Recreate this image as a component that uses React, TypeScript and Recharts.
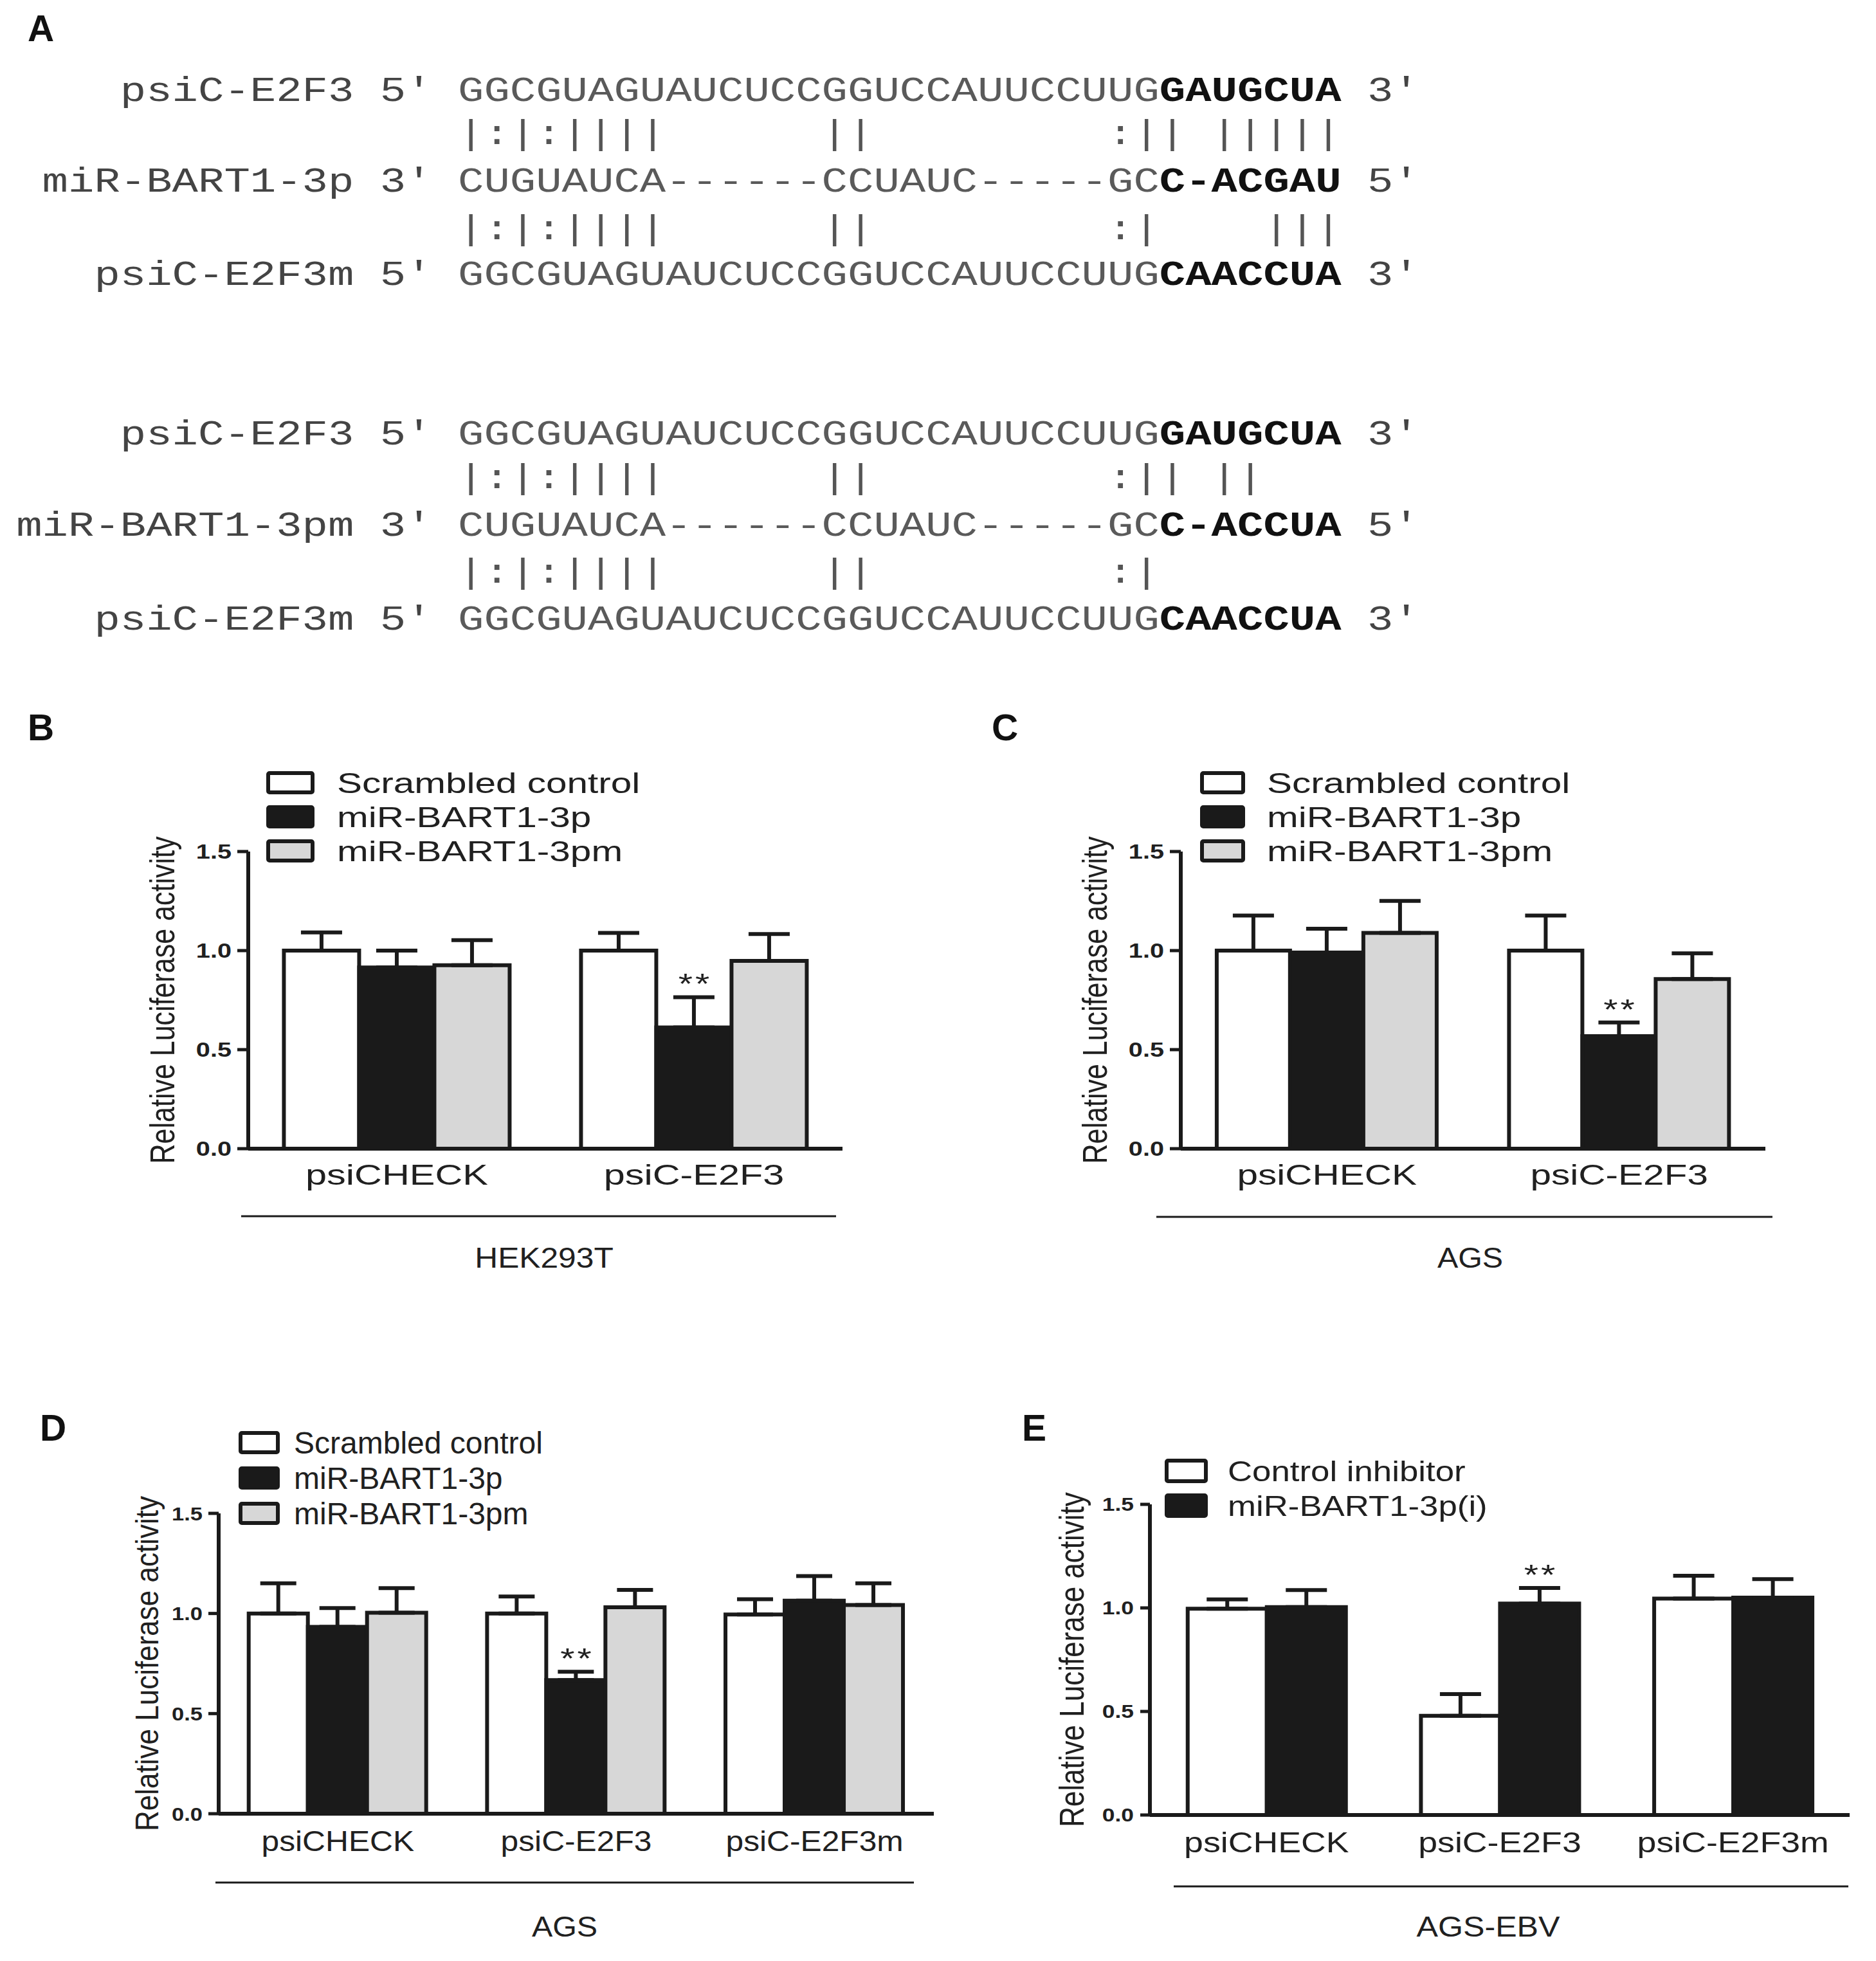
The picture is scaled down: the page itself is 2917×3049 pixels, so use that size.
import React from 'react';
import { BarChart, Bar, XAxis, YAxis, ErrorBar, Legend, LabelList } from 'recharts';

const INK = '#1a1a1a';
const TEXT = '#202020';
const SANS = "'Liberation Sans', Arial, Helvetica, sans-serif";
const MONO = "'Courier New', 'Liberation Mono', 'DejaVu Sans Mono', monospace";

const FILL_WHITE = '#ffffff';
const FILL_BLACK = '#1a1a1a';
const FILL_GRAY = '#d7d7d7';

// ---------- Panel A: sequence alignment ----------
const alignLabelsTop = ['psiC-E2F3', 'miR-BART1-3p', 'psiC-E2F3m'];
const alignLabelsBottom = ['psiC-E2F3', 'miR-BART1-3pm', 'psiC-E2F3m'];
const alignStartMarks = ["5'", "3'", "5'"];
const alignEndMarks = ["3'", "5'", "3'"];
const targetBody = 'GGCGUAGUAUCUCCGGUCCAUUCCUUG';
const targetSeed = 'GAUGCUA';
const targetMutSeed = 'CAACCUA';
const mirBody = 'CUGUAUCA------CCUAUC-----GC';
const mirSeed = 'C-ACGAU';
const mirMutSeed = 'C-ACCUA';
const pairsTopUpper = '|:|:||||      ||         :|| |||||';
const pairsTopLower = '|:|:||||      ||         :|    |||';
const pairsBottomUpper = '|:|:||||      ||         :|| ||';
const pairsBottomLower = '|:|:||||      ||         :|';

// ---------- Bar chart data ----------
const yTicks = [0, 0.5, 1.0, 1.5];
const yAxisTitle = 'Relative Luciferase activity';
const catsTwo = ['psiCHECK', 'psiC-E2F3'];
const catsThree = ['psiCHECK', 'psiC-E2F3', 'psiC-E2F3m'];
const namesMimic = ['Scrambled control', 'miR-BART1-3p', 'miR-BART1-3pm'];
const namesInhib = ['Control inhibitor', 'miR-BART1-3p(i)'];

// B: HEK293T
const cellB = 'HEK293T';
const bScr = [1.0, 1.0];
const bScrErr = [0.092, 0.089];
const bMir = [0.915, 0.612];
const bMirErr = [0.085, 0.153];
const bMirm = [0.926, 0.948];
const bMirmErr = [0.127, 0.136];
const bSig = ['', '**'];

// C: AGS
const cellC = 'AGS';
const cScr = [1.0, 1.0];
const cScrErr = [0.177, 0.177];
const cMir = [0.99, 0.568];
const cMirErr = [0.12, 0.069];
const cMirm = [1.089, 0.856];
const cMirmErr = [0.162, 0.13];
const cSig = ['', '**'];

// D: AGS
const cellD = 'AGS';
const dScr = [1.0, 1.0, 0.995];
const dScrErr = [0.151, 0.085, 0.076];
const dMir = [0.933, 0.667, 1.064];
const dMirErr = [0.094, 0.042, 0.123];
const dMirm = [1.004, 1.031, 1.042];
const dMirmErr = [0.123, 0.087, 0.109];
const dSig = ['', '**', ''];

// E: AGS-EBV
const cellE = 'AGS-EBV';
const eCtl = [0.996, 0.479, 1.045];
const eCtlErr = [0.045, 0.105, 0.11];
const eInh = [1.004, 1.021, 1.05];
const eInhErr = [0.082, 0.075, 0.089];
const eSig = ['', '**', ''];

const noSig2 = ['', ''];
const noSig3 = ['', '', ''];

type Series = { name: string; vals: number[]; errs: number[]; sig: string[]; fill: string };

function makeRows(cats: string[], series: Series[]) {
  return cats.map((c, i) => {
    const r: any = { name: c };
    series.forEach((s, k) => {
      r['v' + k] = s.vals[i];
      r['e' + k] = [0, s.errs[i]];
      r['s' + k] = s.sig[i];
    });
    return r;
  });
}

// ---------- layouts (page coordinates) ----------
const layoutB = {
  left: 0, top: 1060, width: 1400, height: 989, yAxisW: 386, xAxisH: 200,
  margin: { top: 264, right: 90, bottom: 63, left: 0 }, gap: '12%', capHalf: 32,
  tickSize: 17, tickMargin: 9,
  legend: { x: 414, y: 1199, gap: 53, boxW: 75, boxH: 36, textX: 524, fs: 45, sx: 1.3, w: 760 },
  tick: { fs: 32, sx: 1.24 }, cat: { fs: 44, sx: 1.35, dy: 56 },
  yLabel: { x: 271, fs: 43, sy: 1.25 },
  line: { x1: 375, x2: 1300, y: 1891 }, cell: { x: 846, y: 1971, fs: 44, sx: 1.13 },
};
const layoutC = {
  left: 1450, top: 1060, width: 1400, height: 989, yAxisW: 386, xAxisH: 200,
  margin: { top: 264, right: 105, bottom: 63, left: 0 }, gap: '12.3%', capHalf: 32,
  tickSize: 17, tickMargin: 9,
  legend: { x: 1866, y: 1199, gap: 53, boxW: 70, boxH: 36, textX: 1970, fs: 45, sx: 1.3, w: 760 },
  tick: { fs: 32, sx: 1.24 }, cat: { fs: 44, sx: 1.33, dy: 56 },
  yLabel: { x: 1721, fs: 43, sy: 1.25 },
  line: { x1: 1798, x2: 2756, y: 1892 }, cell: { x: 2286, y: 1971, fs: 44, sx: 1.1 },
};
const layoutD = {
  left: 0, top: 2100, width: 1500, height: 949, yAxisW: 340, xAxisH: 180,
  margin: { top: 253, right: 48, bottom: 49, left: 0 }, gap: '12.6%', capHalf: 28,
  tickSize: 16, tickMargin: 9,
  legend: { x: 371, y: 2225, gap: 55, boxW: 64, boxH: 36, textX: 457, fs: 48, sx: 1.0, w: 700 },
  tick: { fs: 30, sx: 1.15 }, cat: { fs: 44, sx: 1.13, dy: 58 },
  yLabel: { x: 246, fs: 44, sy: 1.15 },
  line: { x1: 335, x2: 1421, y: 2927 }, cell: { x: 878, y: 3011, fs: 44, sx: 1.1 },
};
const layoutE = {
  left: 1450, top: 2100, width: 1467, height: 949, yAxisW: 338, xAxisH: 180,
  margin: { top: 239, right: 41, bottom: 47, left: 0 }, gap: '16.2%', capHalf: 32,
  tickSize: 15, tickMargin: 10,
  legend: { x: 1811, y: 2268, gap: 54, boxW: 67, boxH: 38, textX: 1909, fs: 44, sx: 1.2, w: 700 },
  tick: { fs: 29, sx: 1.22 }, cat: { fs: 44, sx: 1.22, dy: 58 },
  yLabel: { x: 1685, fs: 44, sy: 1.2 },
  line: { x1: 1825, x2: 2874, y: 2933 }, cell: { x: 2314, y: 3011, fs: 44, sx: 1.14 },
};

function Panel({ L, cats, series, cell }: any) {
  const rows = makeRows(cats, series);
  const plotTop = L.margin.top;
  const plotBottom = L.height - L.margin.bottom - L.xAxisH;
  const plotH = plotBottom - plotTop;
  const plotLeft = L.margin.left + L.yAxisW;
  const plotRight = L.width - L.margin.right;
  const band = (plotRight - plotLeft) / cats.length;
  const toY = (v: number) => plotBottom - (v / 1.5) * plotH;
  const lg = L.legend;

  const legendContent = () => (
    <svg width={lg.w} height={lg.gap * (series.length - 1) + lg.boxH + 6} style={{ display: 'block', overflow: 'visible' }}>
      {series.map((s: Series, i: number) => (
        <g key={i}>
          <rect x={3} y={i * lg.gap + 3} width={lg.boxW - 6} height={lg.boxH - 6} rx={2} fill={s.fill} stroke={INK} strokeWidth={6} />
          <text
            transform={`translate(${lg.textX - lg.x},${i * lg.gap + lg.boxH / 2 + 0.358 * lg.fs}) scale(${lg.sx},1)`}
            fontFamily={SANS} fontSize={lg.fs} fill={TEXT}
          >
            {s.name}
          </text>
        </g>
      ))}
    </svg>
  );

  const sigLabel = (p: any, k: number) => {
    const vb = p.viewBox || p;
    const v = p.value;
    if (!v) return null;
    let idx = typeof p.index === 'number' ? p.index : Math.floor((vb.x + vb.width / 2 - plotLeft) / band);
    idx = Math.max(0, Math.min(cats.length - 1, idx));
    const s = series[k];
    const capY = toY(s.vals[idx] + s.errs[idx]);
    const cx = vb.x + vb.width / 2;
    return (
      <text transform={`translate(${cx + 2},${capY - 5}) scale(1.3,1)`} textAnchor="middle" fontFamily={SANS} fontSize={44} letterSpacing={3} fill={TEXT}>
        {v}
      </text>
    );
  };

  return (
    <div style={{ position: 'absolute', left: L.left, top: L.top, width: L.width, height: L.height }}>
      <BarChart width={L.width} height={L.height} data={rows} margin={L.margin} barGap={0} barCategoryGap={L.gap}>
        <XAxis
          dataKey="name"
          type="category"
          height={L.xAxisH}
          interval={0}
          axisLine={{ stroke: INK, strokeWidth: 6 }}
          tickLine={false}
          tickSize={0}
          tickMargin={0}
          tick={(p: any) => (
            <text
              transform={`translate(${p.x},${p.y + L.cat.dy}) scale(${L.cat.sx},1)`}
              textAnchor="middle" fontFamily={SANS} fontSize={L.cat.fs} fill={TEXT}
            >
              {p.payload.value}
            </text>
          )}
          label={() => (
            <g>
              <line x1={L.line.x1 - L.left} x2={L.line.x2 - L.left} y1={L.line.y - L.top} y2={L.line.y - L.top} stroke={INK} strokeWidth={3} />
              <text
                transform={`translate(${L.cell.x - L.left},${L.cell.y - L.top}) scale(${L.cell.sx},1)`}
                textAnchor="middle" fontFamily={SANS} fontSize={L.cell.fs} fill={TEXT}
              >
                {cell}
              </text>
            </g>
          )}
        />
        <YAxis
          type="number"
          domain={[0, 1.5]}
          ticks={yTicks}
          width={L.yAxisW}
          axisLine={{ stroke: INK, strokeWidth: 6 }}
          tickLine={{ stroke: INK, strokeWidth: 5 }}
          tickSize={L.tickSize}
          tickMargin={L.tickMargin}
          tick={(p: any) => (
            <text
              transform={`translate(${p.x},${p.y + 0.358 * L.tick.fs}) scale(${L.tick.sx},1)`}
              textAnchor="end" fontFamily={SANS} fontWeight={700} fontSize={L.tick.fs} fill={TEXT}
            >
              {Number(p.payload.value).toFixed(1)}
            </text>
          )}
          label={() => (
            <text
              transform={`translate(${L.yLabel.x - L.left},${(plotTop + plotBottom) / 2}) rotate(-90) scale(1,${L.yLabel.sy})`}
              textAnchor="middle" fontFamily={SANS} fontSize={L.yLabel.fs} fill={TEXT}
            >
              {yAxisTitle}
            </text>
          )}
        />
        <Legend
          layout="vertical"
          align="center"
          verticalAlign="middle"
          content={legendContent}
          wrapperStyle={{ left: lg.x - L.left, top: lg.y - L.top, width: lg.w, height: lg.gap * (series.length - 1) + lg.boxH + 6, margin: 0, padding: 0 }}
        />
        {series.map((s: Series, k: number) => (
          <Bar key={k} dataKey={'v' + k} name={s.name} fill={s.fill} stroke={INK} strokeWidth={6} isAnimationActive={false}>
            <ErrorBar dataKey={'e' + k} width={L.capHalf} stroke={INK} strokeWidth={6} direction="y" isAnimationActive={false} />
            <LabelList dataKey={'s' + k} content={(p: any) => sigLabel(p, k)} />
          </Bar>
        ))}
      </BarChart>
    </div>
  );
}

// ---------- Panel A rendering ----------
const CW = 40.4;
const SEQ_X = 712;
const A_FS = 53;

function monoRun(text: string, col: number, y: number, bold: boolean, color: string, key: string) {
  return (
    <text
      key={key}
      x={SEQ_X + col * CW}
      y={y}
      textLength={text.length * CW}
      lengthAdjust="spacingAndGlyphs"
      fontFamily={MONO}
      fontSize={A_FS}
      fontWeight={bold ? 700 : 400}
      fill={color}
    >
      {text}
    </text>
  );
}

function pairRuns(str: string, y: number, keyp: string) {
  const out: any[] = [];
  let i = 0;
  while (i < str.length) {
    if (str[i] === ' ') { i++; continue; }
    let j = i;
    while (j < str.length && str[j] !== ' ') j++;
    out.push(monoRun(str.slice(i, j), i, y, false, '#555', keyp + i));
    i = j;
  }
  return out;
}

function alignBlock(labels: string[], bodies: string[], seeds: string[], pairs: string[], ys: number[], pys: number[], kp: string) {
  const els: any[] = [];
  labels.forEach((lab, r) => {
    const head = `${lab} ${alignStartMarks[r]}`;
    els.push(monoRun(head, -(head.length + 1), ys[r], false, '#444', kp + 'h' + r));
    els.push(monoRun(bodies[r], 0, ys[r], false, '#5a5a5a', kp + 'b' + r));
    els.push(monoRun(seeds[r], bodies[r].length, ys[r], true, '#111', kp + 's' + r));
    els.push(monoRun(alignEndMarks[r], bodies[r].length + seeds[r].length + 1, ys[r], false, '#444', kp + 't' + r));
  });
  pairs.forEach((p, r) => {
    pairRuns(p, pys[r], kp + 'p' + r + '_').forEach((e) => els.push(e));
  });
  return els;
}

const letterStyle = { fontFamily: SANS, fontWeight: 700, fontSize: 57, fill: '#111' } as any;

export default function App() {
  const seriesB: Series[] = [
    { name: namesMimic[0], vals: bScr, errs: bScrErr, sig: noSig2, fill: FILL_WHITE },
    { name: namesMimic[1], vals: bMir, errs: bMirErr, sig: bSig, fill: FILL_BLACK },
    { name: namesMimic[2], vals: bMirm, errs: bMirmErr, sig: noSig2, fill: FILL_GRAY },
  ];
  const seriesC: Series[] = [
    { name: namesMimic[0], vals: cScr, errs: cScrErr, sig: noSig2, fill: FILL_WHITE },
    { name: namesMimic[1], vals: cMir, errs: cMirErr, sig: cSig, fill: FILL_BLACK },
    { name: namesMimic[2], vals: cMirm, errs: cMirmErr, sig: noSig2, fill: FILL_GRAY },
  ];
  const seriesD: Series[] = [
    { name: namesMimic[0], vals: dScr, errs: dScrErr, sig: noSig3, fill: FILL_WHITE },
    { name: namesMimic[1], vals: dMir, errs: dMirErr, sig: dSig, fill: FILL_BLACK },
    { name: namesMimic[2], vals: dMirm, errs: dMirmErr, sig: noSig3, fill: FILL_GRAY },
  ];
  const seriesE: Series[] = [
    { name: namesInhib[0], vals: eCtl, errs: eCtlErr, sig: noSig3, fill: FILL_WHITE },
    { name: namesInhib[1], vals: eInh, errs: eInhErr, sig: eSig, fill: FILL_BLACK },
  ];

  return (
    <div style={{ position: 'absolute', left: 0, top: 0, width: 2917, height: 3049, background: '#fff', overflow: 'hidden' }}>
      <svg width={2917} height={3049} style={{ position: 'absolute', left: 0, top: 0 }}>
        <text x={43} y={64} {...letterStyle}>A</text>
        <text x={43} y={1151} {...letterStyle}>B</text>
        <text x={1542} y={1151} {...letterStyle}>C</text>
        <text x={62} y={2240} {...letterStyle}>D</text>
        <text x={1589} y={2240} {...letterStyle}>E</text>
        {alignBlock(
          alignLabelsTop,
          [targetBody, mirBody, targetBody],
          [targetSeed, mirSeed, targetMutSeed],
          [pairsTopUpper, pairsTopLower],
          [157, 298, 443],
          [224, 372],
          'a1'
        )}
        {alignBlock(
          alignLabelsBottom,
          [targetBody, mirBody, targetBody],
          [targetSeed, mirMutSeed, targetMutSeed],
          [pairsBottomUpper, pairsBottomLower],
          [691, 833, 979],
          [759, 906],
          'a2'
        )}
      </svg>
      <Panel L={layoutB} cats={catsTwo} series={seriesB} cell={cellB} />
      <Panel L={layoutC} cats={catsTwo} series={seriesC} cell={cellC} />
      <Panel L={layoutD} cats={catsThree} series={seriesD} cell={cellD} />
      <Panel L={layoutE} cats={catsThree} series={seriesE} cell={cellE} />
    </div>
  );
}
